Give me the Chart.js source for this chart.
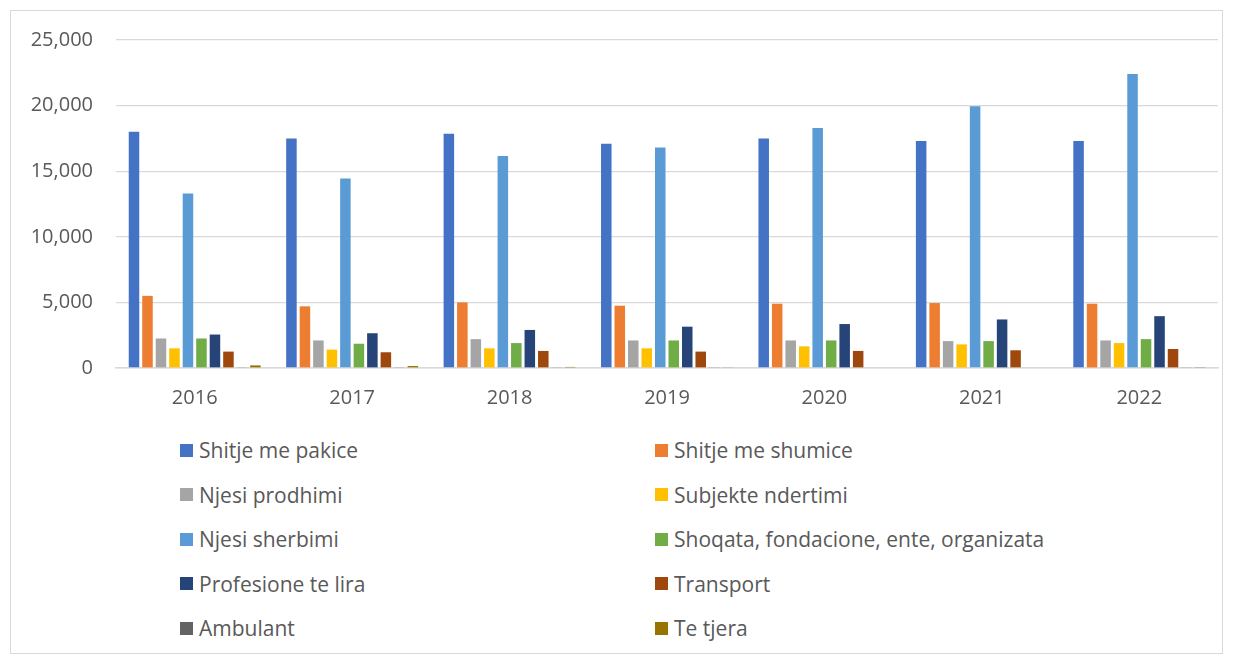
<!DOCTYPE html>
<html>
<head>
<meta charset="utf-8">
<script src="https://cdn.jsdelivr.net/npm/chart.js@4.4.1/dist/chart.umd.min.js"></script>
<style>
  html, body { margin: 0; padding: 0; background: #fff; }
  body { width: 1233px; height: 664px; position: relative; overflow: hidden; font-family: "Open Sans", sans-serif; }
  #frame { position: absolute; left: 10px; top: 10px; width: 1211px; height: 642px; border: 1px solid #d9d9d9; }
  #wrap { position: absolute; left: 0; top: 0; width: 1233px; height: 420px; }
  #legend { position: absolute; left: 180px; top: 428px; display: grid; grid-template-columns: 475px 475px; grid-auto-rows: 44.5px; }
  .item { display: flex; align-items: center; color: #595959; font-size: 21px; white-space: nowrap; }
  .box { width: 13px; height: 13px; margin-right: 6px; flex: none; }
</style>
</head>
<body>
<div id="frame"></div>
<div id="wrap"><canvas id="c"></canvas></div>
<div id="legend"></div>
<script>
const years = ["2016", "2017", "2018", "2019", "2020", "2021", "2022"];
const yTicks = [0, 5000, 10000, 15000, 20000, 25000];

const shitjePakice   = [18000, 17500, 17850, 17100, 17500, 17300, 17300];
const shitjeShumice  = [5500, 4700, 5000, 4750, 4900, 4950, 4900];
const njesiProdhimi  = [2250, 2100, 2200, 2100, 2100, 2050, 2100];
const subjNdertimi   = [1500, 1400, 1500, 1500, 1650, 1800, 1900];
const njesiSherbimi  = [13300, 14450, 16150, 16800, 18300, 19950, 22400];
const shoqata        = [2250, 1850, 1900, 2100, 2100, 2050, 2200];
const profesione     = [2550, 2650, 2900, 3150, 3350, 3700, 3950];
const transport      = [1250, 1200, 1300, 1250, 1300, 1350, 1450];
const ambulant       = [60, 40, 40, 60, 50, 50, 40];
const teTjera        = [200, 150, 80, 60, 50, 50, 30];

const seriesNames = ["Shitje me pakice", "Shitje me shumice", "Njesi prodhimi", "Subjekte ndertimi",
  "Njesi sherbimi", "Shoqata, fondacione, ente, organizata", "Profesione te lira", "Transport",
  "Ambulant", "Te tjera"];
const seriesData = [shitjePakice, shitjeShumice, njesiProdhimi, subjNdertimi, njesiSherbimi,
  shoqata, profesione, transport, ambulant, teTjera];
const colors = ["#4472C4", "#ED7D31", "#A5A5A5", "#FFC000", "#5B9BD5", "#70AD47", "#264478", "#9E480E", "#636363", "#997300"];

const datasets = seriesNames.map((n, i) => ({
  label: n, data: seriesData[i], backgroundColor: colors[i],
  categoryPercentage: 0.857, barPercentage: 0.78
}));

new Chart(document.getElementById('c'), {
  type: 'bar',
  data: { labels: years, datasets },
  options: {
    responsive: true, maintainAspectRatio: false, animation: false,
    layout: { padding: { top: 40, right: 15, bottom: 0, left: 0 } },
    plugins: { legend: { display: false }, tooltip: { enabled: false } },
    scales: {
      x: {
        grid: { display: false, drawTicks: false },
        border: { display: true, color: '#d9d9d9', width: 1.5 },
        ticks: { color: '#595959', font: { family: 'Open Sans', size: 20 }, padding: 18 },
        afterFit: s => { s.height = 52; }
      },
      y: {
        min: 0, max: 25000,
        afterBuildTicks: s => { s.ticks = yTicks.map(v => ({ value: v })); },
        grid: { color: '#d9d9d9', lineWidth: 1.3, drawTicks: false },
        border: { display: false },
        ticks: { color: '#595959', font: { family: 'Open Sans', size: 20 }, padding: 23,
          callback: v => v.toLocaleString('en-US') },
        afterFit: s => { s.width = 116; }
      }
    }
  }
});

const leg = document.getElementById('legend');
seriesNames.forEach((n, i) => {
  const d = document.createElement('div');
  d.className = 'item';
  d.innerHTML = '<span class="box" style="background:' + colors[i] + '"></span><span></span>';
  d.lastChild.textContent = n;
  leg.appendChild(d);
});
</script>
</body>
</html>
